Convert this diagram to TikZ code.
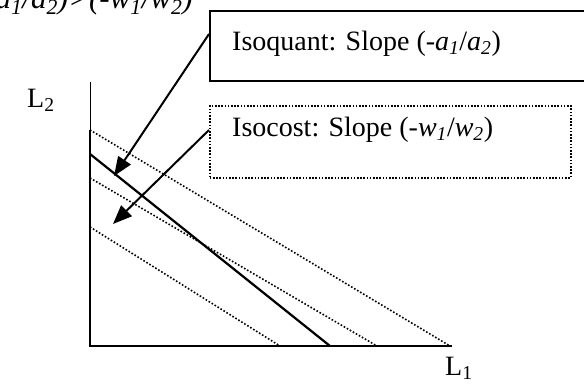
\documentclass[tikz,border=0pt]{standalone}
\usepackage{fontspec}
\setmainfont{Liberation Serif}
\usetikzlibrary{arrows.meta}
\tikzset{
  axisline/.style={line width=2pt},
  isoquantline/.style={line width=2.2pt},
  isocostline/.style={line width=1.6pt, dash pattern=on 1.6pt off 1.9pt},
  solidbox/.style={draw, line width=2pt},
  dottedbox/.style={draw, line width=1.6pt, dash pattern=on 1.6pt off 1.6pt},
  pointer/.style={line width=2pt, -{Triangle[length=19pt,width=15pt]}},
  lbl/.style={font=\fontsize{28}{33}\selectfont, inner sep=0pt, anchor=base west},
}
\newcommand{\itsub}[2]{\textit{#1}\textsubscript{\textit{#2}}}
\begin{document}
\begin{tikzpicture}[x=1pt,y=-1pt]
\useasboundingbox (0,0) rectangle (584,388);
\clip (0,0) rectangle (584,388);
% axes
\coordinate (ytop) at (90,82);
\coordinate (ymid) at (90,130);
\coordinate (orig) at (90,346);
\coordinate (xend) at (452,346);
\draw[line width=1pt] (ytop) -- (ymid);
\draw[axisline] (ymid) -- (orig) -- (xend);
% isocost lines
\coordinate (c1a) at (90,130); \coordinate (c1b) at (450,346);
\coordinate (c2a) at (90,178); \coordinate (c2b) at (377,346);
\coordinate (c3a) at (90,227); \coordinate (c3b) at (280,346);
\draw[isocostline] (c1a) -- (c1b);
\draw[isocostline] (c2a) -- (c2b);
\draw[isocostline] (c3a) -- (c3b);
% isoquant
\coordinate (qa) at (90,154); \coordinate (qb) at (330,346);
\draw[isoquantline] (qa) -- (qb);
% boxes
\node[solidbox, minimum width=420pt, minimum height=70pt, anchor=north west, inner sep=0pt] (qbox) at (209,10) {};
\node[dottedbox, minimum width=361pt, minimum height=72pt, anchor=north west, inner sep=0pt] (cbox) at (209,105) {};
\node[lbl] (qtext) at (232,50) {Isoquant: Slope (-\itsub{a}{1}/\itsub{a}{2})};
\node[lbl] (ctext) at (232,136) {Isocost: Slope (-\itsub{w}{1}/\itsub{w}{2})};
% arrows
\coordinate (qtip) at (114,176);
\coordinate (ctip) at (113,224);
\draw[pointer] (qbox.north west |- 0,34) -- (qtip);
\draw[pointer] (cbox.north west |- 0,130) -- (ctip);
% axis labels
\node[lbl] (l2) at (27,107) {L\textsubscript{2}};
\node[lbl] (l1) at (445,375) {L\textsubscript{1}};
% top text (cut off)
\node[lbl, font=\fontsize{31}{36}\selectfont, anchor=base east] (toptext) at (193,9) {\textit{(-a\textsubscript{1}/a\textsubscript{2})>(-w\textsubscript{1}/w\textsubscript{2})}};
\end{tikzpicture}
\end{document}
